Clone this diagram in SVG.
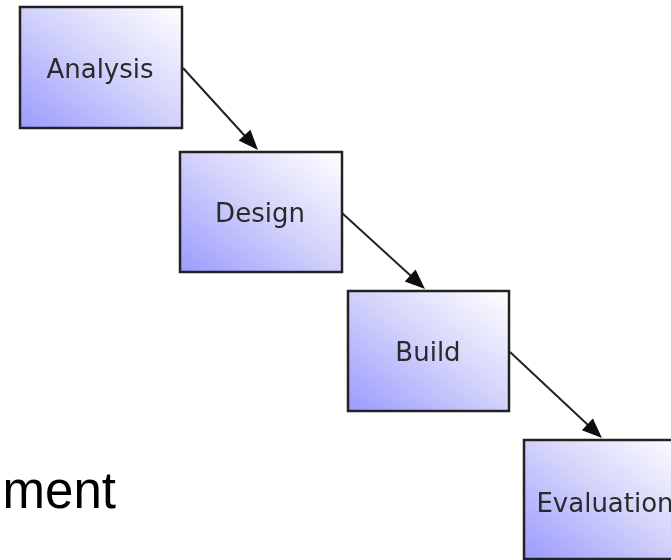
<svg xmlns="http://www.w3.org/2000/svg" width="671" height="560" viewBox="0 0 671 560">
  <defs>
    <linearGradient id="boxFill" x1="0" y1="1" x2="1" y2="0">
      <stop offset="0" stop-color="#9b9bff"/>
      <stop offset="0.55" stop-color="#d6d6fb"/>
      <stop offset="1" stop-color="#ffffff"/>
    </linearGradient>
    <filter id="soft" x="-5%" y="-5%" width="110%" height="110%">
      <feGaussianBlur stdDeviation="0.5"/>
    </filter>
  </defs>
  <style>
    .box { fill: url(#boxFill); stroke: #222; stroke-width: 2.5; }
    .label { font-family: "DejaVu Sans", Verdana, sans-serif; font-size: 26px; fill: #2a2a2a; text-anchor: middle; }
    .edge { stroke: #222; stroke-width: 2; fill: none; }
    .head { fill: #111; }
  </style>

  <rect width="671" height="560" fill="#ffffff"/>

  <g filter="url(#soft)">
    <g id="analysis">
      <rect class="box" x="20" y="7" width="162" height="121"/>
      <text class="label" x="100" y="78">Analysis</text>
    </g>
    <g id="design">
      <rect class="box" x="180" y="152" width="162" height="120"/>
      <text class="label" x="260" y="222">Design</text>
    </g>
    <g id="build">
      <rect class="box" x="348" y="291" width="161" height="120"/>
      <text class="label" x="428" y="361">Build</text>
    </g>
    <g id="evaluation">
      <rect class="box" x="524" y="440" width="162" height="119"/>
      <text class="label" x="605" y="512">Evaluation</text>
    </g>

    <g id="connectors">
      <line class="edge" x1="183" y1="68" x2="245" y2="136"/>
      <path class="head" d="M258,150 L238.6,140.6 L250.4,129.8 z"/>
      <line class="edge" x1="342" y1="213" x2="411" y2="276"/>
      <path class="head" d="M425,289 L404.8,281.4 L415.6,269.6 z"/>
      <line class="edge" x1="510" y1="352" x2="588" y2="425"/>
      <path class="head" d="M602,438 L581.9,430.2 L592.9,418.5 z"/>
    </g>
  </g>

  <text x="116" y="508" font-family="'Liberation Sans', Arial, sans-serif" font-size="51" fill="#000" text-anchor="end">ment</text>
</svg>
